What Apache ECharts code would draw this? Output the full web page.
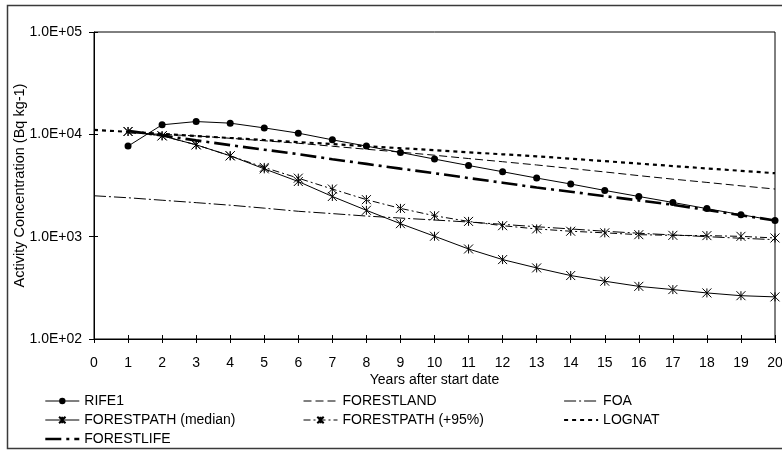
<!DOCTYPE html>
<html>
<head>
<meta charset="utf-8">
<script src="https://cdn.jsdelivr.net/npm/echarts@6/dist/echarts.min.js"></script>
<style>
  html, body { margin: 0; padding: 0; background: #fff; }
  #chart { width: 782px; height: 452px; }
</style>
</head>
<body>
<div id="chart"></div>
<script>
// Years after start date (x axis categories)
const years = [0, 1, 2, 3, 4, 5, 6, 7, 8, 9, 10, 11, 12, 13, 14, 15, 16, 17, 18, 19, 20];

// Activity concentration per model, Bq kg-1 (null = no value for that year)
const rife1 = [null, 7670, 12390, 13330, 12860, 11560, 10270, 8840, 7670, 6650, 5730,
               4960, 4310, 3740, 3270, 2830, 2470, 2160, 1880, 1640, 1440];
const forestland = [null, 10300, 10000, 9650, 9150, 8650, 8180, 7650, 7150, 6700, 6250,
                    5800, 5400, 5020, 4640, 4290, 3950, 3650, 3390, 3140, 2920];
const foa = [2510, 2400, 2270, 2150, 2030, 1900, 1770, 1680, 1590, 1520, 1455,
             1390, 1320, 1250, 1190, 1130, 1080, 1040, 1000, 965, 935];
const forestpathMedian = [null, 10660, 9670, 7900, 6170, 4600, 3460, 2470, 1810, 1340, 1010,
                          758, 597, 495, 417, 367, 327, 304, 282, 265, 258];
const forestpath95 = [null, 10660, 9670, 7900, 6170, 4750, 3730, 2920, 2300, 1890, 1600,
                      1410, 1280, 1190, 1130, 1090, 1046, 1030, 1024, 1007, 971];
const lognat = [11070, 10570, 10100, 9640, 9210, 8800, 8400, 8030, 7670, 7320, 7000,
                6680, 6380, 6100, 5780, 5470, 5180, 4900, 4640, 4400, 4170];
const forestlife = [null, 10800, 9730, 8730, 7840, 7080, 6400, 5710, 5140, 4620, 4170,
                    3740, 3370, 3020, 2750, 2490, 2260, 2050, 1825, 1620, 1440];

// Tick labels for the logarithmic value axis (10^2 .. 10^5)
const yTickLabels = ['1.0E+02', '1.0E+03', '1.0E+04', '1.0E+05'];

const FONT = 'Arial, "Liberation Sans", sans-serif';
const ASTERISK = 'path://M0,0L10,10M10,0L0,10M5,0L5,10';

function pairs(values) {
  const out = [];
  years.forEach((y, i) => { if (values[i] != null) out.push([y, values[i]]); });
  return out;
}

// Line styles per model, shared by the plot and the legend keys
const styles = {
  'RIFE1': { type: 'solid', width: 1 },
  'FORESTLAND': { type: [8, 4], width: 1 },
  'FOA': { type: [12, 3, 2, 3], width: 1 },
  'FORESTPATH (median)': { type: 'solid', width: 1 },
  'FORESTPATH (+95%)': { type: [7, 3, 2, 3], width: 1 },
  'LOGNAT': { type: [4, 4], width: 2.2 },
  'FORESTLIFE': { type: [16, 5, 3, 5], width: 2.6 }
};

function lineSeries(name, values, symbol) {
  const s = {
    name: name,
    type: 'line',
    xAxisIndex: 0,
    yAxisIndex: 0,
    data: pairs(values),
    color: '#000',
    lineStyle: Object.assign({ color: '#000' }, styles[name]),
    symbol: 'none',
    showSymbol: false,
    silent: true,
    z: 3
  };
  if (symbol === 'dot') {
    s.symbol = 'circle';
    s.showSymbol = true;
    s.symbolSize = 7;
    s.itemStyle = { color: '#000', borderWidth: 0 };
  } else if (symbol === 'asterisk') {
    s.symbol = ASTERISK;
    s.showSymbol = true;
    s.symbolSize = 9;
    s.itemStyle = { color: '#000', borderColor: '#000', borderWidth: 1 };
  }
  return s;
}

const series = [
  lineSeries('RIFE1', rife1, 'dot'),
  lineSeries('FORESTLAND', forestland),
  lineSeries('FOA', foa),
  lineSeries('FORESTPATH (median)', forestpathMedian, 'asterisk'),
  lineSeries('FORESTPATH (+95%)', forestpath95, 'asterisk'),
  lineSeries('LOGNAT', lognat),
  lineSeries('FORESTLIFE', forestlife)
];

// Legend keys: line-only models hide the marker and keep their own stroke
const withMarker = name => ({ name: name, lineStyle: Object.assign({ color: '#000' }, styles[name]) });
const lineOnly = name => ({
  name: name,
  itemStyle: { opacity: 0 },
  lineStyle: Object.assign({ color: '#000' }, styles[name])
});

const legendBase = {
  orient: 'vertical',
  top: 393,
  height: 60,
  padding: 0,
  itemWidth: 34,
  itemHeight: 8,
  itemGap: 3,
  selectedMode: false,
  textStyle: { fontFamily: FONT, fontSize: 14, color: '#000', lineHeight: 16 }
};

const chart = echarts.init(document.getElementById('chart'), null, { renderer: 'canvas' });
chart.setOption({
  animation: false,
  backgroundColor: '#fff',
  textStyle: { fontFamily: FONT },
  grid: {
    left: 94, top: 32, width: 681, height: 307,
    outerBoundsMode: 'none',
    containLabel: false,
    show: true, borderColor: '#000', borderWidth: 1, backgroundColor: 'transparent'
  },
  xAxis: [
    {
      type: 'value', min: 0, max: 20, interval: 1, position: 'bottom',
      name: 'Years after start date', nameLocation: 'middle', nameGap: 34,
      nameMoveOverlap: false,
      nameTextStyle: { fontFamily: FONT, fontSize: 14, color: '#000' },
      axisLine: { lineStyle: { color: '#000', width: 1 } },
      axisTick: { show: true, inside: false, length: 4, lineStyle: { color: '#000' } },
      axisLabel: { fontFamily: FONT, fontSize: 14, color: '#000', margin: 17 },
      splitLine: { show: false }
    },
    {
      type: 'value', min: 0, max: 20, interval: 1, position: 'bottom',
      axisLine: { show: false },
      axisTick: { show: true, inside: true, length: 4, lineStyle: { color: '#000' } },
      axisLabel: { show: false },
      splitLine: { show: false }
    }
  ],
  yAxis: [
    {
      type: 'log', logBase: 10, min: 100, max: 100000, position: 'left',
      name: 'Activity Concentration (Bq kg-1)', nameLocation: 'middle', nameGap: 67,
      nameMoveOverlap: false,
      nameTextStyle: { fontFamily: FONT, fontSize: 14.5, color: '#000' },
      axisLine: { show: true, lineStyle: { color: '#000', width: 1 } },
      axisTick: { show: true, inside: false, length: 5, lineStyle: { color: '#000' } },
      axisLabel: {
        fontFamily: FONT, fontSize: 14, color: '#000', margin: 12,
        formatter: v => yTickLabels[Math.round(Math.log10(v)) - 2]
      },
      minorTick: { show: false },
      splitLine: { show: false }
    },
    {
      type: 'log', logBase: 10, min: 100, max: 100000, position: 'left',
      axisLine: { show: false },
      axisTick: { show: true, inside: true, length: 4, lineStyle: { color: '#000' } },
      axisLabel: { show: false },
      splitLine: { show: false }
    }
  ],
  legend: [
    Object.assign({}, legendBase, { left: 44, data: [withMarker('RIFE1'), withMarker('FORESTPATH (median)'), lineOnly('FORESTLIFE')] }),
    Object.assign({}, legendBase, { left: 303, data: [lineOnly('FORESTLAND'), withMarker('FORESTPATH (+95%)')] }),
    Object.assign({}, legendBase, { left: 563, data: [lineOnly('FOA'), lineOnly('LOGNAT')] })
  ],
  graphic: [
    {
      type: 'rect', silent: true, z: 0,
      shape: { x: 7.5, y: 5.5, width: 800, height: 443 },
      style: { fill: 'none', stroke: '#3a3a3a', lineWidth: 1.5 }
    }
  ],
  series: series
});
</script>
</body>
</html>
